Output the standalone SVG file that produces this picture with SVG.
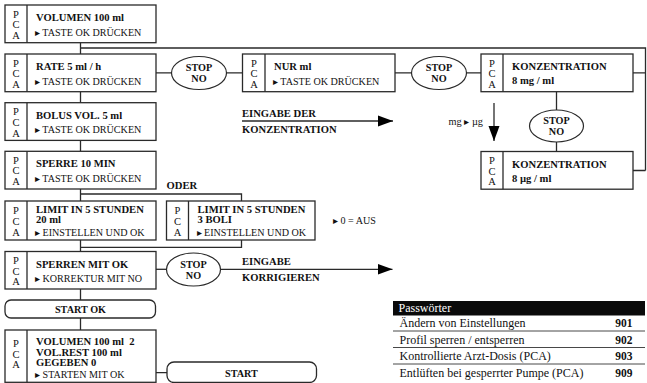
<svg xmlns="http://www.w3.org/2000/svg" width="647" height="383" viewBox="0 0 647 383">
<defs>
<style>
.box{fill:#fff;stroke:#2a2a2a;stroke-width:1.3}
.ln{fill:none;stroke:#2a2a2a;stroke-width:1.3}
.ov{fill:#fff;stroke:#2a2a2a;stroke-width:1.2}
.b{font-family:"Liberation Serif",serif;font-weight:bold;font-size:10.6px;fill:#111}
.r{font-family:"Liberation Serif",serif;font-size:10.1px;fill:#111}
.p{font-family:"Liberation Serif",serif;font-size:10.5px;fill:#111;text-anchor:middle}
.c{font-family:"Liberation Serif",serif;font-weight:bold;font-size:10.2px;fill:#111;text-anchor:middle}
.t{font-family:"Liberation Serif",serif;font-size:12px;fill:#111}
.tn{font-family:"Liberation Serif",serif;font-weight:bold;font-size:11.5px;fill:#111;text-anchor:end}
.rule{stroke:#333;stroke-width:0.9}
</style>
<marker id="ah" markerUnits="userSpaceOnUse" markerWidth="16" markerHeight="12" refX="15" refY="6" orient="auto">
<path d="M0,0.5 L15,6 L0,11.5 z" fill="#000"/>
</marker>
</defs>
<rect width="647" height="383" fill="#fff"/>

<g id="connectors">
<path class="ln" d="M80.5,42.7 V54 M80.5,48 H645.5 V170.5 M633,72.8 H645.5 M633,170.5 H645.5"/>
<path class="ln" d="M156,72.8 H242.5 M395,72.8 H481"/>
<path class="ln" d="M556.5,91.7 V151.5"/>
<path class="ln" d="M80.5,91.7 V102.7 M80.5,140.4 V151.3 M80.5,189 V201 M80.5,194 H241.5 V201"/>
<path class="ln" d="M80.5,240 V251.5 M241.5,240 V247.3 H80.5"/>
<path class="ln" d="M80.5,289 V300 M80.5,318 V330 M156,372.7 H167"/>
<path class="ln" d="M156,269.3 H166"/>
<line class="ln" x1="242" y1="121" x2="393" y2="121" marker-end="url(#ah)"/>
<line class="ln" x1="220" y1="269.3" x2="392.5" y2="269.3" marker-end="url(#ah)"/>
<line class="ln" x1="494" y1="103" x2="494" y2="141" marker-end="url(#ah)"/>
</g>

<g id="n-volumen">
<rect class="box" x="5" y="5" width="151" height="37.7"/>
<line class="ln" x1="27" y1="5" x2="27" y2="42.7"/>
<text class="p" x="16" y="17.5">P</text><text class="p" x="16" y="28">C</text><text class="p" x="16" y="38.8">A</text>
<text class="b" x="36" y="21">VOLUMEN 100 ml</text>
<text class="r" x="35" y="35.5">▸ TASTE OK DRÜCKEN</text>
</g>

<g id="n-rate">
<rect class="box" x="5" y="54" width="151" height="37.7"/>
<line class="ln" x1="27" y1="54" x2="27" y2="91.7"/>
<text class="p" x="16" y="66.5">P</text><text class="p" x="16" y="77">C</text><text class="p" x="16" y="87.8">A</text>
<text class="b" x="36" y="70">RATE 5 ml / h</text>
<text class="r" x="35" y="84.5">▸ TASTE OK DRÜCKEN</text>
</g>

<g id="n-stop1">
<ellipse class="ov" cx="199" cy="73" rx="27.5" ry="16.5"/>
<text class="c" x="199" y="71">STOP</text>
<text class="c" x="199" y="82">NO</text>
</g>

<g id="n-nur">
<rect class="box" x="242.5" y="54" width="152.5" height="37.7"/>
<line class="ln" x1="265" y1="54" x2="265" y2="91.7"/>
<text class="p" x="254" y="66.5">P</text><text class="p" x="254" y="77">C</text><text class="p" x="254" y="87.8">A</text>
<text class="b" x="274" y="70">NUR ml</text>
<text class="r" x="273" y="84.5">▸ TASTE OK DRÜCKEN</text>
</g>

<g id="n-stop2">
<ellipse class="ov" cx="439" cy="73" rx="27.5" ry="16.5"/>
<text class="c" x="439" y="71">STOP</text>
<text class="c" x="439" y="82">NO</text>
</g>

<g id="n-konz1">
<rect class="box" x="481" y="54" width="152" height="37.7"/>
<line class="ln" x1="503" y1="54" x2="503" y2="91.7"/>
<text class="p" x="492" y="66.5">P</text><text class="p" x="492" y="77">C</text><text class="p" x="492" y="87.8">A</text>
<text class="b" x="512" y="70">KONZENTRATION</text>
<text class="b" x="512" y="84">8 mg / ml</text>
</g>

<g id="n-stop3">
<ellipse class="ov" cx="556.5" cy="126" rx="27" ry="16"/>
<text class="c" x="556.5" y="124">STOP</text>
<text class="c" x="556.5" y="135">NO</text>
</g>

<g id="n-konz2">
<rect class="box" x="481" y="151.5" width="152" height="37.7"/>
<line class="ln" x1="503" y1="151.5" x2="503" y2="189.2"/>
<text class="p" x="492" y="164">P</text><text class="p" x="492" y="174.5">C</text><text class="p" x="492" y="185.3">A</text>
<text class="b" x="512" y="167.5">KONZENTRATION</text>
<text class="b" x="512" y="181.5">8 µg / ml</text>
</g>

<g id="l-konz">
<text class="b" x="242" y="117">EINGABE DER</text>
<text class="b" x="242" y="132.5">KONZENTRATION</text>
</g>

<g id="l-mgug">
<text class="r" x="483" y="125" text-anchor="end" style="font-size:10.3px">mg ▸ µg</text>
</g>

<g id="n-bolus">
<rect class="box" x="5" y="102.7" width="151" height="37.7"/>
<line class="ln" x1="27" y1="102.7" x2="27" y2="140.4"/>
<text class="p" x="16" y="115.2">P</text><text class="p" x="16" y="125.7">C</text><text class="p" x="16" y="136.5">A</text>
<text class="b" x="36" y="118.7">BOLUS VOL. 5 ml</text>
<text class="r" x="35" y="133.2">▸ TASTE OK DRÜCKEN</text>
</g>

<g id="n-sperre">
<rect class="box" x="5" y="151.3" width="151" height="37.7"/>
<line class="ln" x1="27" y1="151.3" x2="27" y2="189"/>
<text class="p" x="16" y="163.8">P</text><text class="p" x="16" y="174.3">C</text><text class="p" x="16" y="185.1">A</text>
<text class="b" x="36" y="167.3">SPERRE 10 MIN</text>
<text class="r" x="35" y="181.8">▸ TASTE OK DRÜCKEN</text>
</g>

<g id="l-oder">
<text class="b" x="166.5" y="188.5">ODER</text>
</g>

<g id="n-limit1">
<rect class="box" x="5" y="201" width="151" height="39"/>
<line class="ln" x1="27" y1="201" x2="27" y2="240"/>
<text class="p" x="16" y="213.5">P</text><text class="p" x="16" y="224.5">C</text><text class="p" x="16" y="235.5">A</text>
<text class="b" x="36" y="212.5">LIMIT IN 5 STUNDEN</text>
<text class="b" x="36" y="222.5">20 ml</text>
<text class="r" x="35" y="235.5">▸ EINSTELLEN UND OK</text>
</g>

<g id="n-limit2">
<rect class="box" x="166.5" y="201" width="148.5" height="39"/>
<line class="ln" x1="188.5" y1="201" x2="188.5" y2="240"/>
<text class="p" x="177.5" y="213.5">P</text><text class="p" x="177.5" y="224.5">C</text><text class="p" x="177.5" y="235.5">A</text>
<text class="b" x="197.5" y="212.5">LIMIT IN 5 STUNDEN</text>
<text class="b" x="197.5" y="222.5">3 BOLI</text>
<text class="r" x="196.5" y="235.5">▸ EINSTELLEN UND OK</text>
</g>

<g id="l-aus">
<text class="r" x="333" y="224">▸ 0 = AUS</text>
</g>

<g id="n-sperren">
<rect class="box" x="5" y="251.5" width="151" height="37.5"/>
<line class="ln" x1="27" y1="251.5" x2="27" y2="289"/>
<text class="p" x="16" y="264">P</text><text class="p" x="16" y="274.5">C</text><text class="p" x="16" y="285.2">A</text>
<text class="b" x="36" y="267.5">SPERREN MIT OK</text>
<text class="r" x="35" y="282">▸ KORREKTUR MIT NO</text>
</g>

<g id="n-stop4">
<ellipse class="ov" cx="193.5" cy="269.5" rx="27" ry="16.5"/>
<text class="c" x="193.5" y="267.5">STOP</text>
<text class="c" x="193.5" y="278.5">NO</text>
</g>

<g id="l-korr">
<text class="b" x="242" y="265">EINGABE</text>
<text class="b" x="242" y="280.5">KORRIGIEREN</text>
</g>

<g id="n-startok">
<rect class="box" x="5" y="300" width="150.5" height="18" rx="6"/>
<text class="c" x="80.5" y="313">START OK</text>
</g>

<g id="n-status">
<rect class="box" x="5" y="330" width="151" height="52.3"/>
<line class="ln" x1="27" y1="330" x2="27" y2="382.3"/>
<text class="p" x="16" y="347">P</text><text class="p" x="16" y="357.5">C</text><text class="p" x="16" y="368">A</text>
<text class="b" x="36" y="345" xml:space="preserve" style="white-space:pre">VOLUMEN 100 ml  2</text>
<text class="b" x="36" y="355.5">VOL.REST 100 ml</text>
<text class="b" x="36" y="366">GEGEBEN 0</text>
<text class="r" x="35" y="377.5">▸ STARTEN MIT OK</text>
</g>

<g id="n-start">
<rect class="box" x="167" y="362" width="149.5" height="20.5" rx="7"/>
<text class="c" x="241.5" y="376.5">START</text>
</g>

<g id="passwords">
<rect x="393" y="301" width="252" height="14.5" fill="#0a0a0a"/>
<text class="t" x="398.5" y="312.3" style="fill:#fff">Passwörter</text>
<line class="rule" x1="393" y1="331" x2="645" y2="331"/>
<line class="rule" x1="393" y1="347.5" x2="645" y2="347.5"/>
<line class="rule" x1="393" y1="364" x2="645" y2="364"/>
<text class="t" x="399.5" y="327">Ändern von Einstellungen</text>
<text class="tn" x="632.5" y="327">901</text>
<text class="t" x="399.5" y="343.5">Profil sperren / entsperren</text>
<text class="tn" x="632.5" y="343.5">902</text>
<text class="t" x="399.5" y="360">Kontrollierte Arzt-Dosis (PCA)</text>
<text class="tn" x="632.5" y="360">903</text>
<text class="t" x="399.5" y="376.5">Entlüften bei gesperrter Pumpe (PCA)</text>
<text class="tn" x="632.5" y="376.5">909</text>
</g>
</svg>
